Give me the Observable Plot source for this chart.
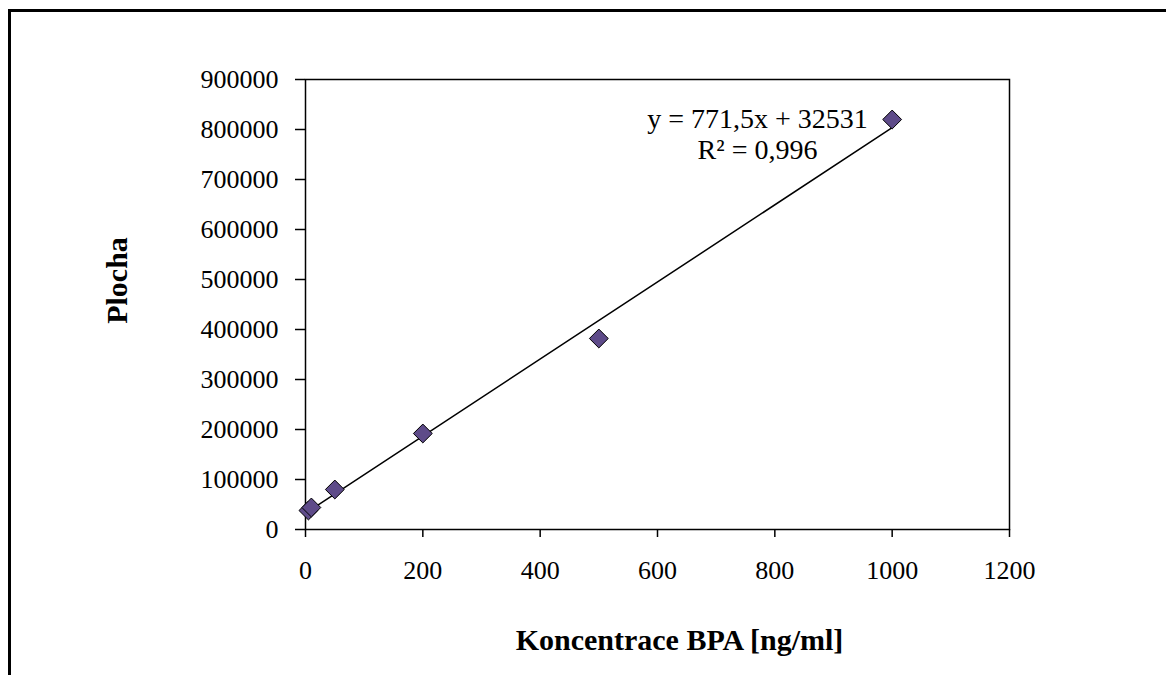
<!DOCTYPE html>
<html>
<head>
<meta charset="utf-8">
<script src="https://cdn.jsdelivr.net/npm/d3@7"></script>
<script src="https://cdn.jsdelivr.net/npm/@observablehq/plot@0.6"></script>
<style>
  html, body { margin: 0; padding: 0; background: #fff; overflow: hidden; }
  #wrap { position: relative; width: 1166px; height: 675px; }
  #border { position: absolute; left: 8px; top: 9px; width: 1300px; height: 900px; border: 3px solid #000; box-sizing: border-box; }
  #chart { position: absolute; left: 0; top: 0; }
</style>
</head>
<body>
<div id="wrap">
  <div id="border"></div>
  <div id="chart"></div>
</div>
<script>
// Data
const concentration = [5, 10, 50, 200, 500, 1000];
const area = [38000, 44000, 80000, 192000, 382000, 820000];
const xTicks = [0, 200, 400, 600, 800, 1000, 1200];
const yTicks = [0, 100000, 200000, 300000, 400000, 500000, 600000, 700000, 800000, 900000];
const xTitle = ["Koncentrace BPA [ng/ml]"];
const yTitle = ["Plocha"];
const equationLines = ["y = 771,5x + 32531", "R² = 0,996"];

const data = concentration.map((c, i) => ({x: c, y: area[i]}));

const font = "'Liberation Serif', 'Times New Roman', serif";

const chart = Plot.plot({
  width: 1166,
  height: 675,
  marginLeft: 305,
  marginRight: 157,
  marginTop: 79,
  marginBottom: 146,
  style: {fontFamily: font, fontSize: "26px", color: "#000", background: "transparent"},
  x: {domain: [0, 1200], ticks: xTicks, tickFormat: d => String(d), label: null},
  y: {domain: [0, 900000], ticks: yTicks, tickFormat: d => String(d), label: null},
  marks: [
    Plot.frame({stroke: "#000", strokeWidth: 1.5}),
    Plot.axisX({ticks: xTicks, tickFormat: d => String(d), tickSize: 8, tickPadding: 23, strokeWidth: 1.5, fontSize: 26, label: null}),
    Plot.axisY({ticks: yTicks, tickFormat: d => String(d), tickSize: 10, tickPadding: 17, strokeWidth: 1.5, fontSize: 26, label: null}),
    Plot.linearRegressionY(data, {x: "x", y: "y", stroke: "#000", strokeWidth: 1.5, ci: 0}),
    Plot.dot(data, {x: "x", y: "y", symbol: "diamond2", r: 8.5, fill: "#5E4B89", stroke: "#000", strokeWidth: 1}),
    Plot.text([equationLines.join("\n")], {frameAnchor: "top-left", dx: 452, dy: 26, textAnchor: "middle", lineAnchor: "top", lineHeight: 1.12, fontSize: 28, fill: "#000"}),
    Plot.text(xTitle, {frameAnchor: "bottom", dx: 22, dy: 111, textAnchor: "middle", lineAnchor: "middle", fontSize: 30, fontWeight: "bold", fill: "#000"}),
    Plot.text(yTitle, {frameAnchor: "left", dx: -188, dy: -24, textAnchor: "middle", lineAnchor: "middle", rotate: -90, fontSize: 30, fontWeight: "bold", fill: "#000"})
  ]
});
document.getElementById("chart").appendChild(chart);
</script>
</body>
</html>
